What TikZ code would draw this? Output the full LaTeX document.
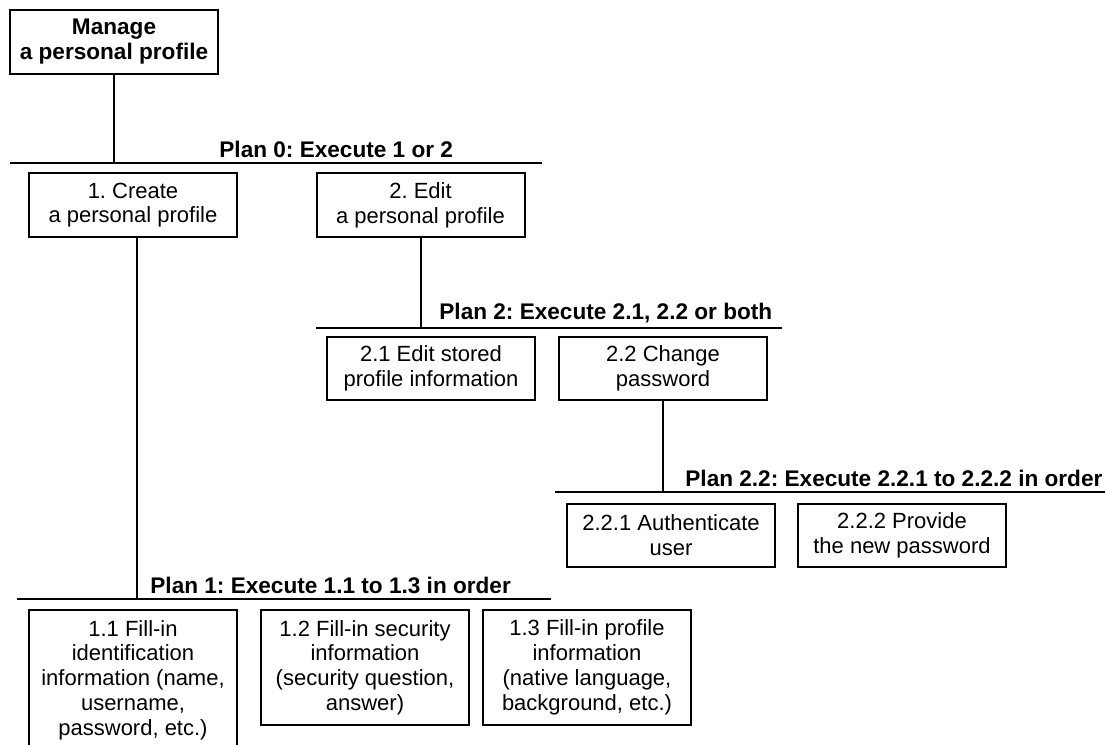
\documentclass[tikz,border=0pt]{standalone}
\usepackage{fontspec}
\setmainfont{Liberation Sans}
\frenchspacing
\usetikzlibrary{calc,positioning}
\tikzset{
  task/.style={
    shape = rectangle,
    draw,
    line width = 1pt,
    align = center,
    inner sep = 0pt,
    minimum width = 104pt,
    minimum height = 32pt,
    font = \fontsize{11}{12.4}\selectfont
  },
  goal/.style={
    task,
    font = \fontsize{11.3}{12.4}\selectfont\bfseries
  },
  plan/.style={
    anchor = south west,
    font = \fontsize{11.3}{12.4}\selectfont\bfseries,
    inner sep = 1.5pt
  },
  bar/.style={
    line width = 1pt
  }
}

\begin{document}
\begin{tikzpicture}[x=0.5pt,y=-0.5pt]
    \useasboundingbox (0,0) rectangle (1105,745);
    \clip (0,0) rectangle (1105,745);

    % tasks
    \node[goal] (top) at (114,41.5) {Manage\\a personal profile};
    \node[task] (t1) at (133,205) {1. Create\\a personal profile};
    \node[task] (t2) at (420.5,205) {2. Edit\\a personal profile};
    \node[task, minimum height=31.5pt] (t21) at (431,368.5) {2.1 Edit stored\\profile information};
    \node[task, minimum height=31.5pt] (t22) at (663,368.5) {2.2 Change\\password};
    \node[task, minimum height=31.5pt] (t221) at (671,535.5) {2.2.1 Authenticate\\user};
    \node[task, minimum height=31.5pt] (t222) at (902,535.5) {2.2.2 Provide\\the new password};
    \node[task, minimum height=70pt] (t11) at (133,680) {1.1 Fill-in\\identification\\information (name,\\username,\\password, etc.)};
    \node[task, minimum height=57.5pt] (t12) at (365,667.5) {1.2 Fill-in security\\information\\(security question,\\answer)};
    \node[task, minimum height=57.5pt] (t13) at (587,667.5) {1.3 Fill-in profile\\information\\(native language,\\background, etc.)};

    % plan bars
    \coordinate (p0l) at (10,163);   \coordinate (p0r) at (542,163);
    \coordinate (p2l) at (316,328);  \coordinate (p2r) at (782,328);
    \coordinate (p22l) at (555,492); \coordinate (p22r) at (1105,492);
    \coordinate (p1l) at (17,599);   \coordinate (p1r) at (551,599);

    \draw[bar] (p0l) -- (p0r);
    \draw[bar] (p2l) -- (p2r);
    \draw[bar] (p22l) -- (p22r);
    \draw[bar] (p1l) -- (p1r);

    \draw[bar] (top.south) -- (top.south |- p0l);
    \draw[bar] (t2.south) -- (t2.south |- p2l);
    \draw[bar] (t22.south) -- (t22.south |- p22l);
    \draw[bar] ([xshift=2pt]t1.south) -- ([xshift=2pt]t1.south |- p1l);

    \node[plan] (plan0) at (216,161) {Plan 0: Execute 1 or 2};
    \node[plan] (plan2) at (436,326) {Plan 2: Execute 2.1, 2.2 or both};
    \node[plan] (plan22) at (682,490) {Plan 2.2: Execute 2.2.1 to 2.2.2 in order};
    \node[plan] (plan1) at (147,597) {Plan 1: Execute 1.1 to 1.3 in order};
\end{tikzpicture}
\end{document}
